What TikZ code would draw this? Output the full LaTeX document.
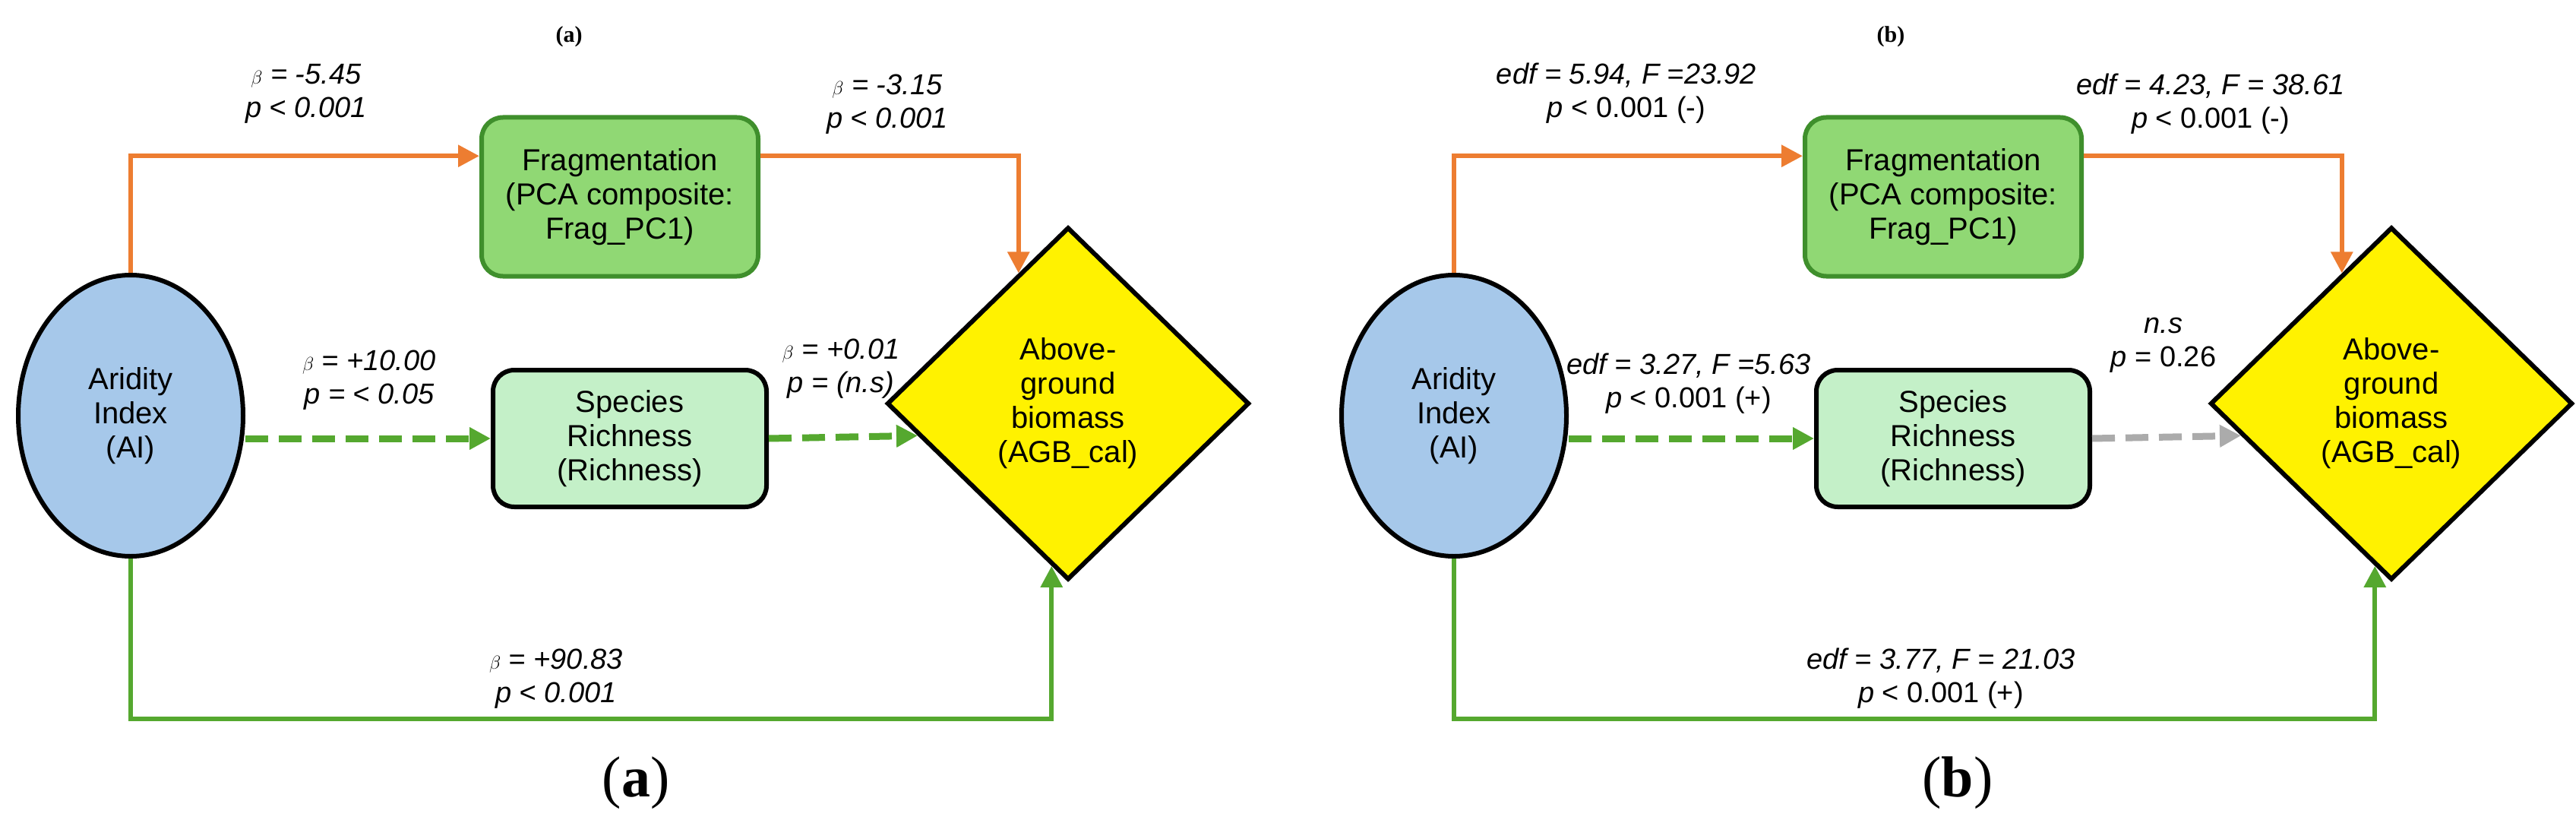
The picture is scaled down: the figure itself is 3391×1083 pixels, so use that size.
\documentclass[tikz,border=0pt]{standalone}
\usepackage{fontspec}
\setmainfont{Liberation Serif}
\newfontfamily\arial{Liberation Sans}
\usetikzlibrary{shapes.geometric,arrows.meta,calc}
\definecolor{orng}{HTML}{ED7D31}
\definecolor{grn}{HTML}{55A82F}
\definecolor{fragfill}{HTML}{90D874}
\definecolor{fragdraw}{HTML}{3F8F2C}
\definecolor{spfill}{HTML}{C4F0C8}
\definecolor{aifill}{HTML}{A6C8EA}
\definecolor{gry}{HTML}{ABABAB}
\tikzset{
  txt/.style={font=\arial\fontsize{40}{45}\selectfont, align=center},
  lbl/.style={font=\arial\itshape\fontsize{38}{44}\selectfont, align=center},
  aibox/.style={ellipse, draw=black, line width=6pt, fill=aifill, minimum width=296pt, minimum height=370pt, inner sep=0pt, txt},
  fragbox/.style={rectangle, rounded corners=28pt, draw=fragdraw, line width=6pt, fill=fragfill, minimum width=364pt, minimum height=209pt, txt},
  spbox/.style={rectangle, rounded corners=28pt, draw=black, line width=6pt, fill=spfill, minimum width=360pt, minimum height=180pt, txt},
  diabox/.style={diamond, aspect=1.03, draw=black, line width=6pt, fill=yellow, minimum width=477pt, minimum height=464pt, inner sep=0pt, txt},
  arrtip/.style={-{Triangle[length=28pt,width=28pt]}},
  oarr/.style={arrtip, draw=orng, line width=6pt},
  garr/.style={arrtip, draw=grn, line width=6pt},
  gdash/.style={arrtip, draw=grn, line width=9pt, dash pattern=on 30pt off 14pt},
  ydash/.style={arrtip, draw=gry, line width=9pt, dash pattern=on 30pt off 14pt},
  ttl/.style={font=\bfseries\fontsize{30}{34}\selectfont},
  captxt/.style={font=\fontsize{76}{80}\selectfont}
}
\begin{document}
\begin{tikzpicture}[x=1pt,y=-1pt]
\useasboundingbox (0,0) rectangle (3391,1083);
% ---------- panel a ----------
\node[ttl] (ta) at (749,48) {(a)};
\node[aibox] (ai) at (172,547) {Aridity\\Index\\(AI)};
\node[fragbox] (fr) at (816,259) {Fragmentation\\(PCA composite:\\Frag\_PC1)};
\node[spbox] (sp) at (829,577) {Species\\Richness\\(Richness)};
\node[diabox] (dia) at (1406,531) {Above-\\ground\\biomass\\(AGB\_cal)};
\coordinate (frin) at ($(fr.north west)!0.25!(fr.south west)$);
\coordinate (frout) at ($(fr.north east)!0.25!(fr.south east)$);
\coordinate (dtop) at ($(dia.north)!0.27!(dia.west)$);
\coordinate (dmid) at ($(dia.west)!0.18!(dia.south)$);
\coordinate (dbot) at ($(dia.south)!0.09!(dia.west)$);
\coordinate (bot) at (172,946);
\draw[oarr] (ai.north) |- (frin);
\draw[oarr] (frout) -| (dtop);
\draw[gdash] (sp.west -| ai.east) -- (sp.west);
\draw[gdash] (sp.east) -- (dmid);
\draw[garr] (ai.south) -- (bot) -| (dbot);
\node[lbl] (l1) at (403,123) {$\beta$ = -5.45\\p < 0.001};
\node[lbl] (l2) at (1168,137) {$\beta$ = -3.15\\p < 0.001};
\node[lbl] (l3) at (486,500) {$\beta$ = +10.00\\p = < 0.05};
\node[lbl] (l4) at (1107,485) {$\beta$ = +0.01\\p = (n.s)};
\node[lbl] (l5) at (732,893) {$\beta$ = +90.83\\p < 0.001};
\node[captxt] (ca) at (837,1030) {(\textbf{a})};
% ---------- panel b ----------
\begin{scope}[xshift=1742pt]
\node[ttl] (tb) at (747,48) {(b)};
\node[aibox] (bai) at (172,547) {Aridity\\Index\\(AI)};
\node[fragbox] (bfr) at (816,259) {Fragmentation\\(PCA composite:\\Frag\_PC1)};
\node[spbox] (bsp) at (829,577) {Species\\Richness\\(Richness)};
\node[diabox] (bdia) at (1406,531) {Above-\\ground\\biomass\\(AGB\_cal)};
\coordinate (bfrin) at ($(bfr.north west)!0.25!(bfr.south west)$);
\coordinate (bfrout) at ($(bfr.north east)!0.25!(bfr.south east)$);
\coordinate (bdtop) at ($(bdia.north)!0.27!(bdia.west)$);
\coordinate (bdmid) at ($(bdia.west)!0.18!(bdia.south)$);
\coordinate (bdbot) at ($(bdia.south)!0.09!(bdia.west)$);
\coordinate (bbot) at (172,946);
\draw[oarr] (bai.north) |- (bfrin);
\draw[oarr] (bfrout) -| (bdtop);
\draw[gdash] (bsp.west -| bai.east) -- (bsp.west);
\draw[ydash] (bsp.east) -- (bdmid);
\draw[garr] (bai.south) -- (bbot) -| (bdbot);
\node[lbl] (m1) at (399,123) {edf = 5.94, F =23.92\\p\upshape{} < 0.001 (-)};
\node[lbl] (m2) at (1168,137) {edf = 4.23, F = 38.61\\p\upshape{} < 0.001 (-)};
\node[lbl] (m3) at (481,505) {edf = 3.27, F =5.63\\p\upshape{} < 0.001 (+)};
\node[lbl] (m4) at (1106,454) {n.s\\p\upshape{} = 0.26};
\node[lbl] (m5) at (813,893) {edf = 3.77, F = 21.03\\p\upshape{} < 0.001 (+)};
\node[captxt] (cb) at (835,1030) {(\textbf{b})};
\end{scope}
\end{tikzpicture}
\end{document}
